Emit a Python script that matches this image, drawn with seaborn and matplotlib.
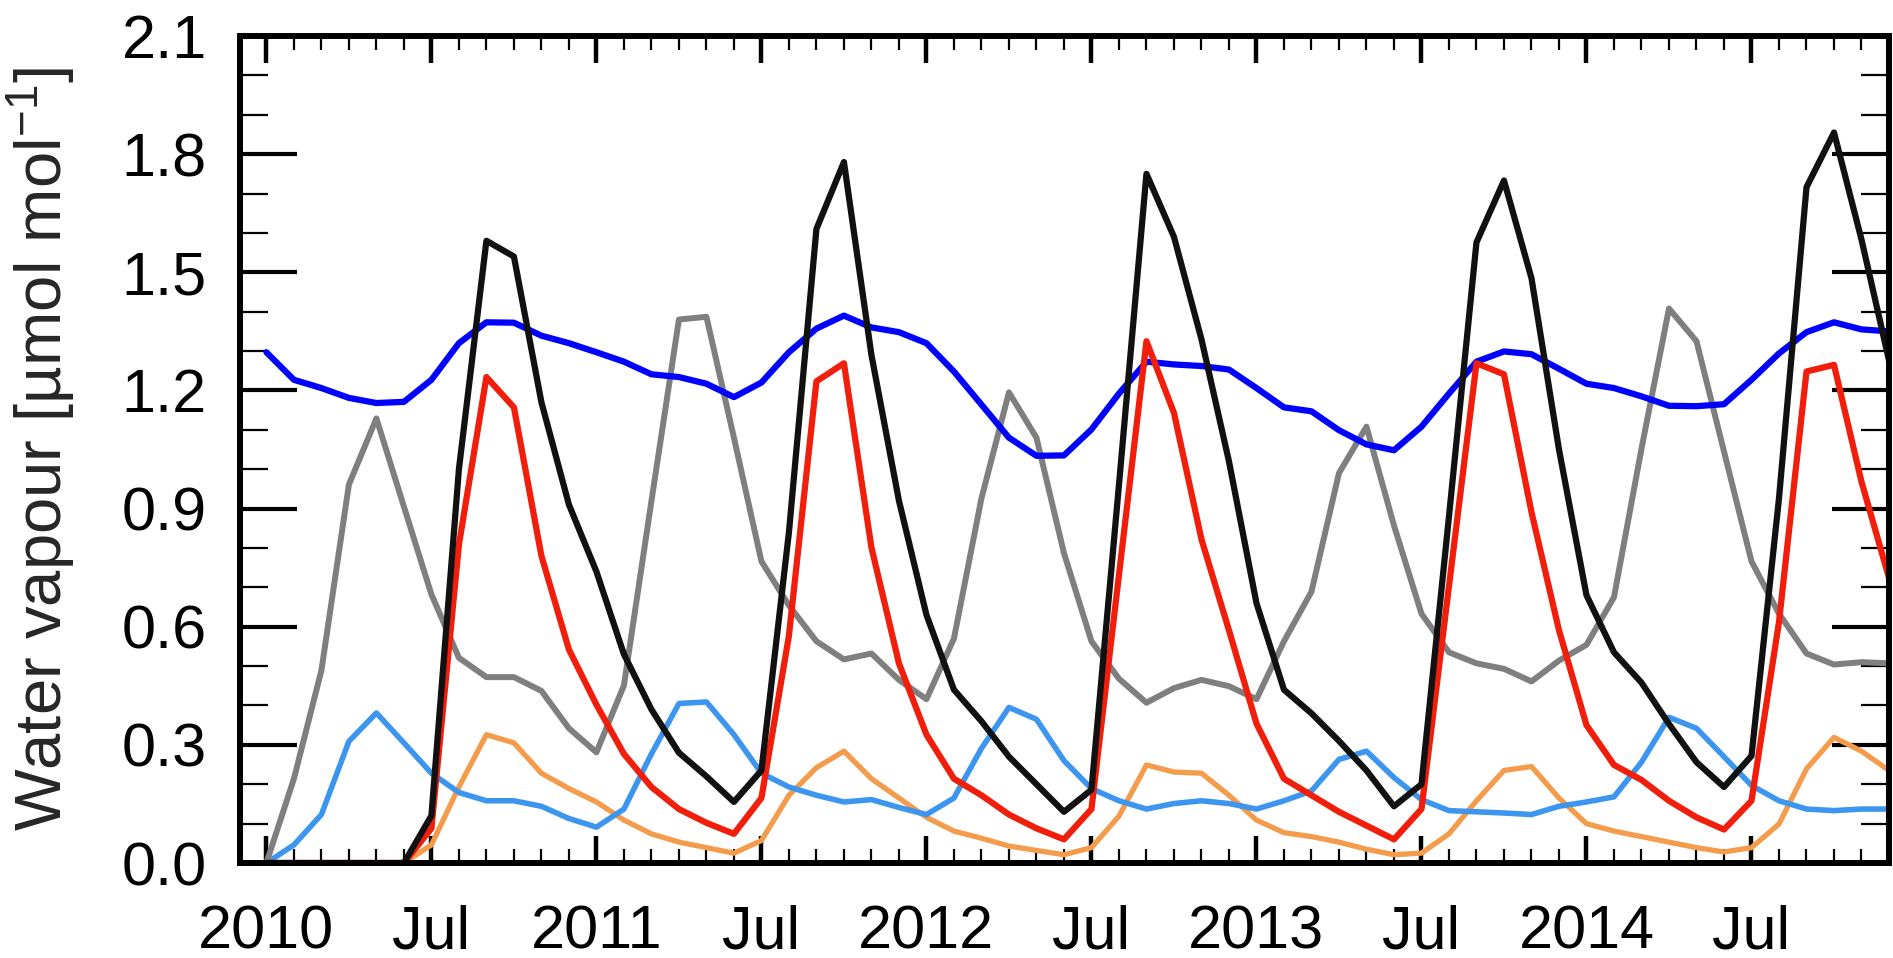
import matplotlib
matplotlib.use("Agg")
import matplotlib.pyplot as plt
import seaborn as sns
import pandas as pd
import numpy as np
from matplotlib.ticker import MultipleLocator, FixedLocator, FixedFormatter

months = list(range(60))
tick_labels = ["2010", "Jul", "2011", "Jul", "2012", "Jul", "2013", "Jul", "2014", "Jul"]

black = [0, 0, 0, 0, 0, 0, 0.12, 1.0, 1.58, 1.54,
         1.17, 0.91, 0.74, 0.53, 0.39, 0.28, 0.22, 0.155, 0.235, 0.84,
         1.61, 1.78, 1.29, 0.92, 0.63, 0.44, 0.36, 0.27, 0.2, 0.13,
         0.186, 0.96, 1.75, 1.59, 1.33, 1.02, 0.66, 0.44, 0.38, 0.31,
         0.235, 0.144, 0.2, 0.88, 1.576, 1.733, 1.485, 1.05, 0.68, 0.535,
         0.458, 0.353, 0.256, 0.193, 0.272, 0.926, 1.716, 1.855, 1.583, 1.276]
red = [0, 0, 0, 0, 0, 0, 0.088, 0.808, 1.234, 1.157,
       0.78, 0.542, 0.402, 0.277, 0.193, 0.137, 0.102, 0.074, 0.165, 0.577,
       1.223, 1.269, 0.801, 0.507, 0.326, 0.214, 0.172, 0.123, 0.088, 0.06,
       0.137, 0.731, 1.325, 1.143, 0.822, 0.591, 0.354, 0.214, 0.172, 0.13,
       0.095, 0.06, 0.137, 0.703, 1.269, 1.241, 0.891, 0.591, 0.35, 0.249,
       0.211, 0.158, 0.116, 0.085, 0.158, 0.612, 1.248, 1.265, 0.968, 0.724]
gray = [0, 0.214, 0.489, 0.961, 1.129, 0.905, 0.682, 0.521, 0.472, 0.472,
        0.437, 0.342, 0.281, 0.451, 0.919, 1.38, 1.387, 1.08, 0.766, 0.654,
        0.563, 0.517, 0.532, 0.465, 0.416, 0.57, 0.926, 1.195, 1.08, 0.787,
        0.563, 0.468, 0.407, 0.444, 0.465, 0.449, 0.416, 0.563, 0.689, 0.99,
        1.108, 0.857, 0.633, 0.535, 0.507, 0.493, 0.461, 0.514, 0.554, 0.675,
        1.052, 1.408, 1.325, 1.045, 0.766, 0.633, 0.532, 0.504, 0.51, 0.507]
blue = [1.297, 1.227, 1.206, 1.181, 1.168, 1.171, 1.227, 1.32, 1.373, 1.372,
        1.339, 1.32, 1.297, 1.273, 1.241, 1.234, 1.217, 1.183, 1.22, 1.297,
        1.357, 1.39, 1.36, 1.348, 1.32, 1.248, 1.164, 1.08, 1.034, 1.035,
        1.101, 1.192, 1.273, 1.266, 1.262, 1.253, 1.206, 1.157, 1.147, 1.099,
        1.063, 1.048, 1.108, 1.192, 1.273, 1.299, 1.292, 1.255, 1.217, 1.206,
        1.185, 1.161, 1.16, 1.165, 1.227, 1.294, 1.348, 1.373, 1.355, 1.35]
lightblue = [0, 0.046, 0.123, 0.309, 0.381, 0.305, 0.228, 0.179, 0.158, 0.158,
             0.144, 0.113, 0.091, 0.137, 0.277, 0.405, 0.409, 0.326, 0.228, 0.193,
             0.172, 0.155, 0.161, 0.141, 0.123, 0.165, 0.291, 0.395, 0.365, 0.26,
             0.189, 0.158, 0.137, 0.151, 0.158, 0.151, 0.137, 0.158, 0.183, 0.263,
             0.284, 0.217, 0.161, 0.133, 0.13, 0.127, 0.123, 0.144, 0.155, 0.168,
             0.256, 0.37, 0.342, 0.27, 0.197, 0.158, 0.137, 0.133, 0.137, 0.137]
orange = [0, 0, 0, 0, 0, 0, 0.046, 0.193, 0.326, 0.305,
          0.228, 0.189, 0.155, 0.109, 0.074, 0.053, 0.039, 0.025, 0.057, 0.172,
          0.242, 0.284, 0.214, 0.165, 0.116, 0.081, 0.063, 0.043, 0.032, 0.021,
          0.039, 0.119, 0.249, 0.231, 0.228, 0.172, 0.109, 0.077, 0.067, 0.053,
          0.035, 0.021, 0.025, 0.074, 0.158, 0.235, 0.245, 0.165, 0.1, 0.081,
          0.067, 0.053, 0.039, 0.028, 0.039, 0.099, 0.239, 0.319, 0.284, 0.235]

series = {"orange": orange, "lightblue": lightblue, "gray": gray,
          "blue": blue, "red": red, "black": black}
palette = {"orange": "#f59c4c", "lightblue": "#3c96ef", "gray": "#7f7f7f",
           "blue": "#0000ff", "red": "#f01e0a", "black": "#111111"}
widths = {"orange": 3.8, "lightblue": 4.0, "gray": 4.3,
          "blue": 4.5, "red": 4.5, "black": 4.5}

df = pd.concat([pd.DataFrame({"month": months, "value": v, "series": k})
                for k, v in series.items()], ignore_index=True)

sns.set_theme(style="white")
plt.rcParams["font.family"] = ["Liberation Sans", "DejaVu Sans"]
plt.rcParams["mathtext.fontset"] = "custom"
plt.rcParams["mathtext.rm"] = "Liberation Sans"
plt.rcParams["mathtext.default"] = "regular"

fig = plt.figure(figsize=(18.93, 9.58), dpi=100)
ax = fig.add_axes([240 / 1893, 95 / 958, 1649 / 1893, 827 / 958])

sns.lineplot(data=df, x="month", y="value", hue="series",
             hue_order=list(series.keys()), palette=palette,
             linewidth=4.0, legend=False, ax=ax, estimator=None, sort=False)
for line, name in zip(ax.get_lines(), series.keys()):
    line.set_linewidth(widths[name])

ax.set_xlim(-0.96, 59)
ax.set_ylim(0, 2.1)

ax.xaxis.set_major_locator(FixedLocator(list(range(0, 60, 6))))
ax.xaxis.set_major_formatter(FixedFormatter(tick_labels))
ax.xaxis.set_minor_locator(MultipleLocator(1))
ax.yaxis.set_major_locator(MultipleLocator(0.3))
ax.yaxis.set_minor_locator(MultipleLocator(0.1))
ax.yaxis.set_major_formatter(matplotlib.ticker.FormatStrFormatter("%.1f"))

ax.tick_params(axis="both", which="both", direction="in", top=True, right=True,
               bottom=True, left=True, colors="black")
ax.tick_params(axis="y", which="major", length=41, width=3.0, pad=24, labelsize=44)
ax.tick_params(axis="y", which="minor", length=20, width=1.6)
ax.tick_params(axis="x", which="major", length=19.5, width=3.2, pad=30, labelsize=44)
ax.tick_params(axis="x", which="minor", length=10, width=1.6)

for s in ax.spines.values():
    s.set_linewidth(4.3)
    s.set_color("black")
    s.set_visible(True)

ax.set_xlabel("")
ax.set_ylabel("Water vapour [µmol mol$^{-1}$]", fontsize=47)
ax.yaxis.set_label_coords(-0.098, 0.5)

fig.savefig("out.png", dpi=100, facecolor="white")
